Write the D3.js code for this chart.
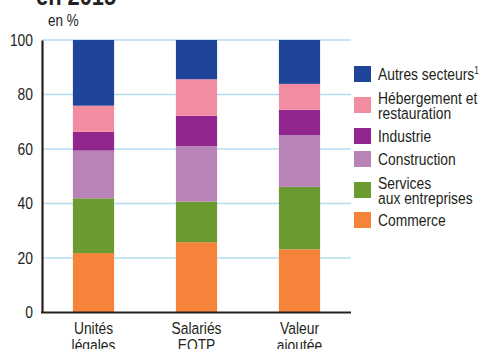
<!DOCTYPE html>
<html>
<head>
<meta charset="utf-8">
<script src="https://cdn.jsdelivr.net/npm/d3@7"></script>
<style>
  html, body { margin: 0; padding: 0; background: #fff; }
  svg { display: block; }
  text { font-family: "Liberation Sans", Arial, Helvetica, sans-serif; fill: #231f20; }
</style>
</head>
<body>
<svg id="chart" width="483" height="349"></svg>
<script>
// Categories on the x axis (two-line labels)
const categories = ["Unités légales", "Salariés EQTP", "Valeur ajoutée"];
const categoryLines = [["Unités", "légales"], ["Salariés", "EQTP"], ["Valeur", "ajoutée"]];

// Sectors, stacked from bottom to top
const sectors = ["Commerce", "Services aux entreprises", "Construction", "Industrie", "Hébergement et restauration", "Autres secteurs"];
const sectorColors = ["#f5833a", "#6b9a31", "#b983b8", "#91278e", "#f28ca0", "#1f459b"];

// Shares in % per sector, one value per category
const commerce     = [21.8, 25.8, 23.2];
const services     = [20.1, 14.9, 22.9];
const construction = [17.5, 20.4, 19.0];
const industrie    = [6.9, 11.1, 9.3];
const hebergement  = [9.6, 13.4, 9.5];
const autres       = [24.1, 14.4, 16.1];

const yTicks = [0, 20, 40, 60, 80, 100];

const seriesValues = [commerce, services, construction, industrie, hebergement, autres];
const rows = categories.map((c, i) => {
  const r = { category: c };
  sectors.forEach((s, k) => { r[s] = seriesValues[k][i]; });
  return r;
});

// Condensed look: horizontal squeeze of a regular sans
const SX = 0.84;

const svg = d3.select("#chart");

const x = d3.scaleBand().domain(categories).range([42, 351]).paddingInner(0.6).paddingOuter(0.3);
const y = d3.scaleLinear().domain([0, 100]).range([312.5, 40]);

// Places a condensed text item at (px, py)
function condensedText(parent, px, py, str, size, anchor) {
  const g = parent.append("g").attr("transform", `translate(${px},${py}) scale(${SX},1)`);
  const t = g.append("text").attr("x", 0).attr("y", 0)
    .attr("text-anchor", anchor || "start")
    .style("font-size", size + "px")
    .text(str);
  return t;
}

// Title (partially above the frame) and unit
const title = condensedText(svg, 36, 5, "en 2015", 26, "start");
title.style("font-weight", "bold");
condensedText(svg, 48, 26, "en %", 16, "start");

// Horizontal gridlines
svg.append("g").selectAll("line").data(yTicks.filter(d => d > 0)).join("line")
  .attr("x1", 42).attr("x2", 351)
  .attr("y1", d => y(d)).attr("y2", d => y(d))
  .attr("stroke", "#b4dcf0").attr("stroke-width", 1.5);

// Stacked bars
const stacked = d3.stack().keys(sectors)(rows);
svg.append("g").selectAll("g").data(stacked).join("g")
  .attr("fill", (d, i) => sectorColors[i])
  .selectAll("rect").data(d => d).join("rect")
  .attr("x", d => x(d.data.category))
  .attr("width", x.bandwidth())
  .attr("y", d => y(d[1]))
  .attr("height", d => y(d[0]) - y(d[1]));

// Y axis
const yAxis = d3.axisLeft(y).tickValues(yTicks).tickSize(0).tickPadding(9);
const gy = svg.append("g").attr("transform", "translate(42,0)").call(yAxis);
gy.select(".domain").attr("stroke", "#231f20").attr("stroke-width", 2.2);
gy.selectAll(".tick text")
  .style("font-size", "16.5px").style("font-family", null).attr("fill", "#231f20")
  .attr("x", -9 / SX)
  .attr("transform", `scale(${SX},1)`);
gy.attr("font-family", null);

// Baseline
svg.append("line")
  .attr("x1", 41).attr("x2", 351)
  .attr("y1", y(0)).attr("y2", y(0))
  .attr("stroke", "#231f20").attr("stroke-width", 2.2);

// X labels (two lines each)
categories.forEach((c, i) => {
  categoryLines[i].forEach((line, j) => {
    condensedText(svg, x(c) + x.bandwidth() / 2, 334 + j * 17, line, 16.5, "middle");
  });
});

// Legend, top to bottom: reverse stacking order
const legendItems = [
  { idx: 5, lines: ["Autres secteurs"], sup: "1", top: 66 },
  { idx: 4, lines: ["Hébergement et", "restauration"], top: 97 },
  { idx: 3, lines: ["Industrie"], top: 128 },
  { idx: 2, lines: ["Construction"], top: 151 },
  { idx: 1, lines: ["Services", "aux entreprises"], top: 182 },
  { idx: 0, lines: ["Commerce"], top: 212 }
];
const lg = svg.append("g");
legendItems.forEach(item => {
  lg.append("rect").attr("x", 354).attr("y", item.top).attr("width", 17).attr("height", 16)
    .attr("fill", sectorColors[item.idx]);
  const n = item.lines.length;
  const base = item.top + 14 - (n - 1) * 7.5;
  item.lines.forEach((line, j) => {
    const t = condensedText(lg, 378, base + j * 15, line, 16.5, "start");
    if (item.sup && j === 0) {
      t.append("tspan").attr("dy", -6).style("font-size", "10px").text(item.sup);
    }
  });
});
</script>
</body>
</html>
